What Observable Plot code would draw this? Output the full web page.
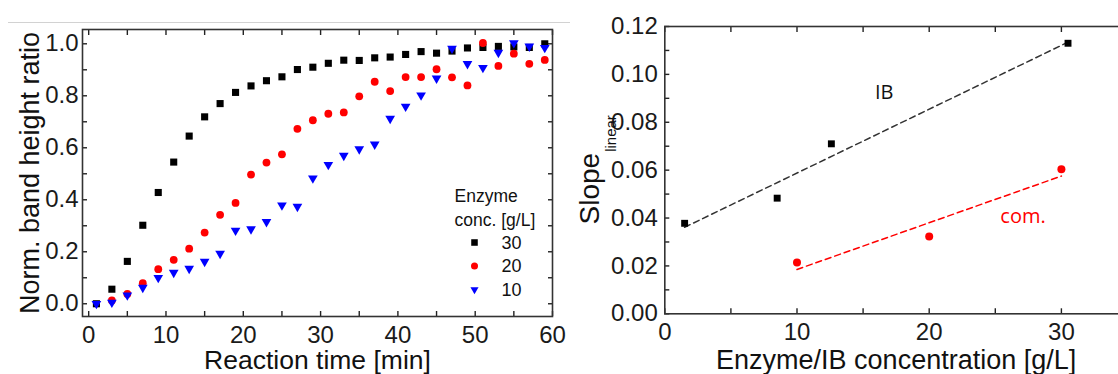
<!DOCTYPE html>
<html><head><meta charset="utf-8">
<script src="https://cdn.jsdelivr.net/npm/d3@7"></script>
<script src="https://cdn.jsdelivr.net/npm/@observablehq/plot@0.6"></script>
<style>
html,body{margin:0;padding:0;background:#fff;width:1118px;height:374px;overflow:hidden;}
#wrap{position:relative;width:1118px;height:374px;overflow:hidden;}
#left{position:absolute;left:0;top:0;width:570px;height:374px;}
#right{position:absolute;left:560px;top:0;width:590px;height:374px;}
#rule{position:absolute;left:8px;top:22px;width:562px;height:0;border-top:1.5px solid #d2d2d2;}
svg{max-width:none !important;}
</style></head><body>
<div id="wrap"><div id="rule"></div><div id="left"></div><div id="right"></div></div>
<script>
// ---------- Left panel data ----------
const time = [1,3,5,7,9,11,13,15,17,19,21,23,25,27,29,31,33,35,37,39,41,43,45,47,49,51,53,55,57,59];
const ratio30 = [0.000,0.056,0.163,0.302,0.428,0.545,0.645,0.719,0.770,0.813,0.838,0.858,0.873,0.901,0.910,0.925,0.937,0.936,0.946,0.949,0.959,0.970,0.964,0.972,0.984,0.986,0.990,0.988,0.986,1.000];
const ratio20 = [null,0.013,0.038,0.079,0.133,0.169,0.212,0.274,0.342,0.388,0.497,0.543,0.575,0.673,0.706,0.731,0.736,0.798,0.854,0.818,0.872,0.872,0.902,0.871,0.840,1.003,0.915,0.962,0.923,0.938];
const ratio10 = [0.000,0.005,0.033,0.062,0.100,0.120,0.135,0.162,0.193,0.282,0.287,0.315,0.379,0.374,0.483,0.535,0.570,0.595,0.613,0.712,0.759,0.802,0.867,0.982,0.923,0.908,0.966,1.003,0.990,0.985];
const legendTitle = ["Enzyme", "conc. [g/L]"];
const legendLabels = ["30", "20", "10"];
const leftXMajor = [0,10,20,30,40,50,60];
const leftXMinor = [5,15,25,35,45,55];
const leftYMajor = [0,0.2,0.4,0.6,0.8,1.0];
const leftYMinor = [0.1,0.3,0.5,0.7,0.9];
const leftXTitle = "Reaction time [min]";
const leftYTitle = "Norm. band height ratio";

// ---------- Right panel data ----------
const ibConc = [1.5, 8.5, 12.6, 30.5];
const ibSlope = [0.0378, 0.0483, 0.0710, 0.1130];
const comConc = [10, 20, 30];
const comSlope = [0.0214, 0.0323, 0.0604];
const annotLabels = ["IB", "com."];
const annotX = [16.6, 27.1];
const annotY = [0.0922, 0.0405];
const rightXMajor = [0,10,20,30];
const rightXMinor = [5,15,25,35];
const rightYMajor = [0,0.02,0.04,0.06,0.08,0.10,0.12];
const rightYMinor = [0.01,0.03,0.05,0.07,0.09,0.11];
const rightXTitle = "Enzyme/IB concentration [g/L]";
const rightYTitle = "Slope";
const rightYSub = "linear";

// ---------- styles ----------
const RED = "#ff0000", BLUE = "#0000ff", BLACK = "#000000";
const FONT = "'Liberation Sans', Arial, Helvetica, sans-serif";
const triangleDown = {
  draw(ctx, size) {
    const y = -Math.sqrt(size / (Math.sqrt(3) * 3));
    ctx.moveTo(0, -y * 2);
    ctx.lineTo(-Math.sqrt(3) * y, y);
    ctx.lineTo(Math.sqrt(3) * y, y);
    ctx.closePath();
  }
};
const legendSymbols = ["square", "circle", triangleDown];
const legendColors = [BLACK, RED, BLUE];
const legendR = [3.7, 3.5, 3.0];

function axes({xMajor, xMinor, yMajor, yMinor, xFmt, yFmt, xPad, yPad}) {
  const t = {tickSize: -5, strokeWidth: 1.4, label: null, fontSize: 24, fill: "#1a1a1a"};
  const blank = () => "";
  return [
    Plot.axisX(xMajor, {...t, anchor: "bottom", tickPadding: xPad, tickFormat: xFmt}),
    Plot.axisX(xMinor, {...t, anchor: "bottom", tickFormat: blank}),
    Plot.axisX(xMajor.concat(xMinor), {...t, anchor: "top", tickFormat: blank}),
    Plot.axisY(yMajor, {...t, anchor: "left", tickPadding: yPad, tickFormat: yFmt}),
    Plot.axisY(yMinor, {...t, anchor: "left", tickFormat: blank}),
    Plot.axisY(yMajor.concat(yMinor), {...t, anchor: "right", tickFormat: blank})
  ];
}

// ---------- Left chart ----------
const rows = time.map((t, i) => ({t, r30: ratio30[i], r20: ratio20[i], r10: ratio10[i]}));
const legendMarks = legendLabels.flatMap((lab, i) => [
  Plot.dot([lab], {frameAnchor: "top-left", dx: 392, dy: 213 + i * 23.5, symbol: legendSymbols[i], fill: legendColors[i], r: legendR[i]}),
  Plot.text([lab], {frameAnchor: "top-left", dx: 419, dy: 213.5 + i * 23.5, text: d => d, textAnchor: "start", lineAnchor: "middle", fontSize: 18, fill: "#111"})
]);
const left = Plot.plot({
  width: 570, height: 374,
  marginLeft: 82, marginRight: 18, marginTop: 29, marginBottom: 58,
  style: {fontFamily: FONT, fontSize: "24px", color: "#222", background: "transparent"},
  x: {domain: [-0.8, 60], axis: null},
  y: {domain: [-0.049, 1.055], axis: null},
  marks: [
    ...axes({xMajor: leftXMajor, xMinor: leftXMinor, yMajor: leftYMajor, yMinor: leftYMinor, xFmt: "d", yFmt: ".1f", xPad: 14, yPad: 9}),
    Plot.frame({stroke: "#333", strokeWidth: 1.6}),
    Plot.dot(rows, {x: "t", y: "r30", symbol: "square", fill: BLACK, r: 4}),
    Plot.dot(rows, {x: "t", y: "r20", symbol: "circle", fill: RED, r: 3.9}),
    Plot.dot(rows, {x: "t", y: "r10", symbol: triangleDown, fill: BLUE, r: 3.6}),
    Plot.text([legendTitle[0]], {frameAnchor: "top-left", dx: 372, dy: 167, text: d => d, textAnchor: "start", lineAnchor: "middle", fontSize: 17.5, fill: "#111"}),
    Plot.text([legendTitle[1]], {frameAnchor: "top-left", dx: 372, dy: 191, text: d => d, textAnchor: "start", lineAnchor: "middle", fontSize: 17.5, fill: "#111"}),
    ...legendMarks,
    Plot.text([leftYTitle], {frameAnchor: "left", rotate: -90, dx: -52, text: d => d, textAnchor: "middle", lineAnchor: "middle", fontSize: 27, fill: "#111"}),
    Plot.text([leftXTitle], {frameAnchor: "bottom", dy: 43.8, text: d => d, textAnchor: "middle", lineAnchor: "middle", fontSize: 26.5, fill: "#111"})
  ]
});
document.getElementById("left").appendChild(left);

// ---------- Right chart ----------
const ib = ibConc.map((c, i) => ({c, s: ibSlope[i]}));
const com = comConc.map((c, i) => ({c, s: comSlope[i]}));
const annots = annotLabels.map((l, i) => ({l, x: annotX[i], y: annotY[i]}));
const right = Plot.plot({
  width: 590, height: 374,
  marginLeft: 104.3, marginRight: 23, marginTop: 26, marginBottom: 60.7,
  style: {fontFamily: FONT, fontSize: "24px", color: "#222", background: "transparent"},
  x: {domain: [0, 35], axis: null},
  y: {domain: [0, 0.12], axis: null},
  marks: [
    ...axes({xMajor: rightXMajor, xMinor: rightXMinor, yMajor: rightYMajor, yMinor: rightYMinor, xFmt: "d", yFmt: ".2f", xPad: 14, yPad: 12}),
    Plot.frame({stroke: "#333", strokeWidth: 1.6}),
    Plot.linearRegressionY(ib, {x: "c", y: "s", stroke: "#333", strokeWidth: 1.5, strokeDasharray: "6,4", ci: 0}),
    Plot.linearRegressionY(com, {x: "c", y: "s", stroke: RED, strokeWidth: 1.5, strokeDasharray: "6,4", ci: 0}),
    Plot.dot(ib, {x: "c", y: "s", symbol: "square", fill: BLACK, r: 3.9}),
    Plot.dot(com, {x: "c", y: "s", symbol: "circle", fill: RED, r: 4}),
    Plot.text(annots, {x: "x", y: "y", text: "l", fill: (d) => d.l === "IB" ? "#111" : RED, fontSize: 20, fontFamily: "'Open Sans', 'Noto Sans', sans-serif"}),
    Plot.text([rightYTitle], {frameAnchor: "left", rotate: -90, dx: -74.6, dy: 54.3, textAnchor: "start", lineAnchor: "middle", text: d => d, fontSize: 28, fill: "#111"}),
    Plot.text([rightXTitle], {frameAnchor: "bottom", dy: 46.4, text: d => d, textAnchor: "middle", lineAnchor: "middle", fontSize: 27, fill: "#111"})
  ]
});
// subscript "linear" appended to the "Slope" title as a real text span
const slopeText = [...right.querySelectorAll("text")].find(e => e.textContent === rightYTitle);
if (slopeText) {
  const ts = document.createElementNS("http://www.w3.org/2000/svg", "tspan");
  ts.textContent = rightYSub;
  ts.setAttribute("font-size", "15");
  ts.setAttribute("dy", "17");
  ts.setAttribute("dx", "1");
  slopeText.appendChild(ts);
}
document.getElementById("right").appendChild(right);
</script>
</body></html>
